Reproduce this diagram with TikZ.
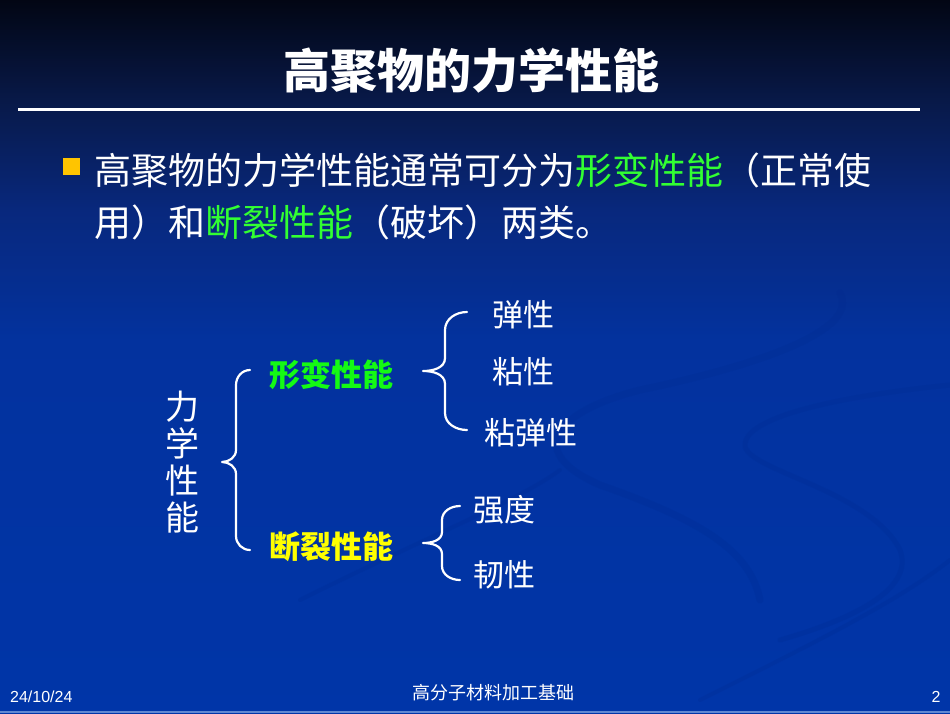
\documentclass[tikz,border=0pt]{standalone}
\usepackage{fontspec}
\setmainfont{Noto Sans CJK SC}
\newfontfamily\latinf{Liberation Sans}
\definecolor{bgA}{RGB}{2,6,20}
\definecolor{bgB}{RGB}{8,25,72}
\definecolor{bgC}{RGB}{8,40,125}
\definecolor{bgD}{RGB}{3,50,158}
\definecolor{bgE}{RGB}{0,53,168}
\definecolor{swoosh}{RGB}{0,40,140}
\definecolor{lgreen}{RGB}{50,255,50}
\definecolor{dgreen}{RGB}{20,250,20}
\definecolor{yel}{RGB}{255,255,0}
\definecolor{bullet}{RGB}{255,196,0}
\definecolor{footline}{RGB}{95,135,210}
\begin{document}
\begin{tikzpicture}[x=1pt,y=-1pt,
  bodytext/.style={text=white,inner sep=0pt,font=\fontsize{37}{37}\selectfont},
  catlabel/.style={inner sep=0pt,font=\fontsize{31}{31}\selectfont\bfseries},
  itemlabel/.style={text=white,inner sep=0pt,font=\fontsize{31}{31}\selectfont},
  bracestyle/.style={draw=white,line width=2.2pt,line cap=round,line join=round},
  swooshstyle/.style={draw=swoosh,opacity=0.2,line cap=round}]
% background
\useasboundingbox (0,0) rectangle (950,713);
\fill[top color=bgA,bottom color=bgB] (0,0) rectangle (950,100.5);
\fill[top color=bgB,bottom color=bgC] (0,100) rectangle (950,210.5);
\fill[top color=bgC,bottom color=bgD] (0,210) rectangle (950,340.5);
\fill[top color=bgD,bottom color=bgE] (0,340) rectangle (950,713);
\fill[footline] (0,711) rectangle (950,713);
% faint swooshes
\draw[swooshstyle,line width=7pt] (840,293) .. controls (860,330) and (760,365) .. (640,390) .. controls (560,410) and (520,450) .. (600,485) .. controls (700,520) and (750,550) .. (760,600);
\draw[swooshstyle,line width=5pt] (950,385) .. controls (850,395) and (745,415) .. (745,445) .. controls (745,470) and (870,490) .. (900,550) .. controls (915,590) and (850,620) .. (780,640);
\draw[swooshstyle,line width=4pt] (300,600) .. controls (420,540) and (520,500) .. (560,470);
\draw[swooshstyle,line width=4pt] (950,560) .. controls (900,600) and (820,640) .. (700,700);
% title
\node[text=white,font=\fontsize{47}{47}\selectfont\bfseries,inner sep=0pt] (title) at (471.5,71) {高聚物的力学性能};
\coordinate (ruleL) at (18,109);
\coordinate (ruleR) at (920,109);
\draw[white,line width=3pt] (ruleL) -- (ruleR);
% bullet
\node[fill=bullet,minimum size=17pt,inner sep=0pt] (bul) at (71.5,166) {};
\node[bodytext,anchor=west] (line1) at (94,170) {高聚物的力学性能通常可分为\textcolor{lgreen}{形变性能}（正常使};
\node[bodytext,anchor=west] (line2) at (94,222) {用）和\textcolor{lgreen}{断裂性能}（破坏）两类。};
% diagram
\node[text=white,inner sep=0pt,align=center,font=\fontsize{34}{37}\selectfont] (root) at (182,462) {力\\学\\性\\能};
\node[catlabel,text=dgreen] (deform) at (331,375) {形变性能};
\node[catlabel,text=yel] (fract) at (331,547) {断裂性能};
\node[itemlabel] (elas) at (523,315) {弹性};
\node[itemlabel] (visc) at (523,372) {粘性};
\node[itemlabel] (viscel) at (531,433) {粘弹性};
\node[itemlabel] (stren) at (504,510) {强度};
\node[itemlabel] (tough) at (504,575) {韧性};
% braces
\draw[bracestyle] (250,370) to[out=180,in=90] (236,385) -- (236,450) to[out=-90,in=0] (222,462) to[out=0,in=90] (236,474) -- (236,536) to[out=-90,in=180] (250,550);
\draw[bracestyle] (467,312) to[out=180,in=90] (445,330) -- (445,358) to[out=-90,in=0] (423,371) to[out=0,in=90] (445,384) -- (445,413) to[out=-90,in=180] (467,430);
\draw[bracestyle] (460,506) to[out=180,in=90] (442,520) -- (442,532) to[out=-90,in=0] (423,543) to[out=0,in=90] (442,554) -- (442,566) to[out=-90,in=180] (460,580);
% footer
\node[text=white,inner sep=0pt,anchor=west,font=\latinf\fontsize{16}{16}\selectfont] (date) at (10,697) {24/10/24};
\node[text=white,inner sep=0pt,font=\fontsize{18}{18}\selectfont] (foot) at (493,693) {高分子材料加工基础};
\node[text=white,inner sep=0pt,font=\latinf\fontsize{16}{16}\selectfont] (pnum) at (936,697) {2};
\end{tikzpicture}
\end{document}
